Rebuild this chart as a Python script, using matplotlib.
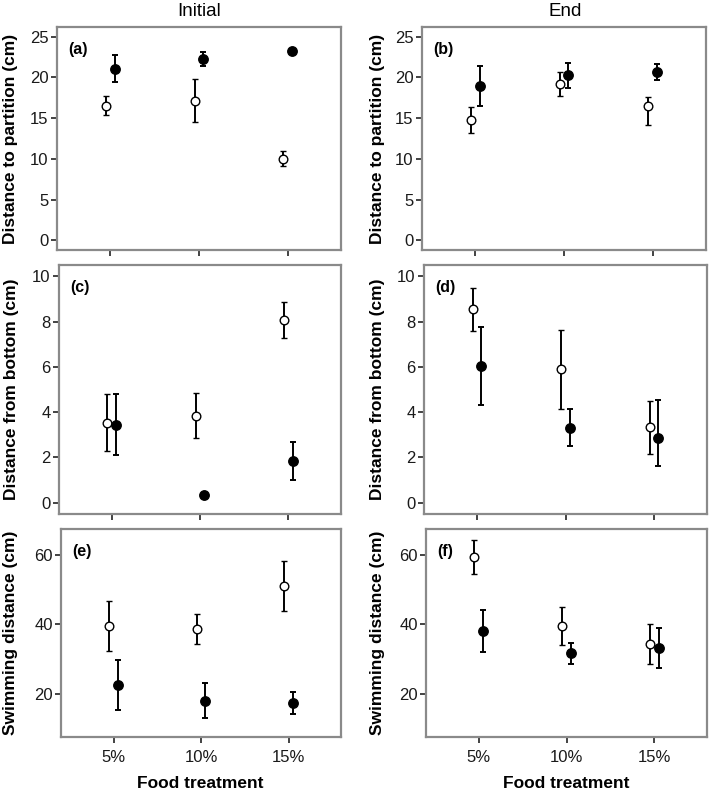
import numpy as np
import matplotlib
matplotlib.use('Agg')
import matplotlib.pyplot as plt

plt.rcParams['font.family'] = ['Liberation Sans', 'DejaVu Sans']

# data: means and ends of error bars (low, high)
food = ['5%', '10%', '15%']

# (a) initial, distance to partition
a_open = [16.5, 17.15, 10.0]
a_open_lo = [15.35, 14.55, 9.1]
a_open_hi = [17.7, 19.75, 11.0]
a_fill = [21.1, 22.3, 23.2]
a_fill_lo = [19.4, 21.45, 22.95]
a_fill_hi = [22.8, 23.15, 23.45]

# (b) end, distance to partition
b_open = [14.75, 19.2, 16.45]
b_open_lo = [13.15, 17.7, 14.1]
b_open_hi = [16.4, 20.7, 17.65]
b_fill = [18.9, 20.25, 20.7]
b_fill_lo = [16.5, 18.65, 19.7]
b_fill_hi = [21.4, 21.75, 21.65]

# (c) initial, distance from bottom
c_open = [3.54, 3.82, 8.07]
c_open_lo = [2.3, 2.84, 7.28]
c_open_hi = [4.79, 4.83, 8.87]
c_fill = [3.44, 0.32, 1.84]
c_fill_lo = [2.12, 0.22, 1.0]
c_fill_hi = [4.79, 0.42, 2.69]

# (d) end, distance from bottom
d_open = [8.55, 5.89, 3.34]
d_open_lo = [7.6, 4.14, 2.17]
d_open_hi = [9.49, 7.61, 4.51]
d_fill = [6.02, 3.32, 2.84]
d_fill_lo = [4.3, 2.52, 1.6]
d_fill_hi = [7.76, 4.13, 4.52]

# (e) initial, swimming distance
e_open = [39.5, 38.65, 51.1]
e_open_lo = [32.3, 34.3, 43.95]
e_open_hi = [46.7, 43.0, 58.2]
e_fill = [22.45, 17.9, 17.25]
e_fill_lo = [15.2, 13.0, 14.0]
e_fill_hi = [29.7, 22.95, 20.6]

# (f) end, swimming distance
f_open = [59.4, 39.6, 34.4]
f_open_lo = [54.55, 34.1, 28.6]
f_open_hi = [64.2, 45.1, 40.2]
f_fill = [38.2, 31.6, 33.05]
f_fill_lo = [32.0, 28.6, 27.3]
f_fill_hi = [44.25, 34.5, 38.9]

W, H = 709, 796
fig = plt.figure(figsize=(W / 100, H / 100), dpi=100)


def box(x0, y0, x1, y1):
    return [x0 / W, 1 - y1 / H, (x1 - x0) / W, (y1 - y0) / H]


def draw(rect, op, op_lo, op_hi, fl, fl_lo, fl_hi, ylim, yticks, ylabel, letter, xlab, ylab_x):
    ax = fig.add_axes(box(*rect))
    x = np.arange(len(food))
    op = np.array(op); fl = np.array(fl)
    op_err = [op - np.array(op_lo), np.array(op_hi) - op]
    fl_err = [fl - np.array(fl_lo), np.array(fl_hi) - fl]
    ax.errorbar(x - 0.05, op, yerr=op_err, fmt='o', color='black', mfc='white', mec='black',
                mew=1.0, ms=6.2, elinewidth=1.4, capsize=2, capthick=1.4, zorder=3)
    ax.errorbar(x + 0.05, fl, yerr=fl_err, fmt='o', color='black', mfc='black', mec='black',
                ms=6.8, elinewidth=1.4, capsize=2, capthick=1.4, zorder=3)
    ax.set_xlim(-0.6, 2.6)
    ax.set_ylim(*ylim)
    ax.set_yticks(yticks)
    ax.set_xticks(x)
    if xlab:
        ax.set_xticklabels(food)
    else:
        ax.set_xticklabels([])
    ax.tick_params(direction='out', length=4, width=1.2, color='#222222', labelsize=12,
                   labelcolor='#1a1a1a', pad=2)
    ax.tick_params(axis='x', pad=5)
    for s in ax.spines.values():
        s.set_color('#8a8a8a')
        s.set_linewidth(1.6)
    ax.annotate(letter, xy=(0, 1), xycoords='axes fraction', xytext=(8, -16.5),
                textcoords='offset points', ha='left', va='center', fontsize=11.5,
                fontweight='bold')
    cy = (rect[1] + rect[3]) / 2
    fig.text(ylab_x / W, 1 - cy / H, ylabel, rotation=90, ha='center', va='center',
             fontsize=12.5, fontweight='bold')
    return ax


draw((57, 27, 341, 250), a_open, a_open_lo, a_open_hi, a_fill, a_fill_lo, a_fill_hi,
     (-1.2, 26.2), [0, 5, 10, 15, 20, 25], 'Distance to partition (cm)', '(a)', False, 11)
draw((422, 27, 706, 250), b_open, b_open_lo, b_open_hi, b_fill, b_fill_lo, b_fill_hi,
     (-1.2, 26.2), [0, 5, 10, 15, 20, 25], 'Distance to partition (cm)', '(b)', False, 378)
draw((59, 265, 341, 514), c_open, c_open_lo, c_open_hi, c_fill, c_fill_lo, c_fill_hi,
     (-0.5, 10.5), [0, 2, 4, 6, 8, 10], 'Distance from bottom (cm)', '(c)', False, 12)
draw((424, 265, 707, 514), d_open, d_open_lo, d_open_hi, d_fill, d_fill_lo, d_fill_hi,
     (-0.5, 10.5), [0, 2, 4, 6, 8, 10], 'Distance from bottom (cm)', '(d)', False, 378)
draw((61, 529, 341, 737), e_open, e_open_lo, e_open_hi, e_fill, e_fill_lo, e_fill_hi,
     (7.5, 67.5), [20, 40, 60], 'Swimming distance (cm)', '(e)', True, 11)
draw((426, 529, 707, 737), f_open, f_open_lo, f_open_hi, f_fill, f_fill_lo, f_fill_hi,
     (7.5, 67.5), [20, 40, 60], 'Swimming distance (cm)', '(f)', True, 378)

fig.text(199 / W, 1 - 11 / H, 'Initial', ha='center', va='center', fontsize=13.5)
fig.text(565 / W, 1 - 11 / H, 'End', ha='center', va='center', fontsize=13.5)
fig.text(200 / W, 1 - 783 / H, 'Food treatment', ha='center', va='center', fontsize=12.5,
         fontweight='bold')
fig.text(566 / W, 1 - 783 / H, 'Food treatment', ha='center', va='center', fontsize=12.5,
         fontweight='bold')

fig.savefig('out.png', dpi=100)
